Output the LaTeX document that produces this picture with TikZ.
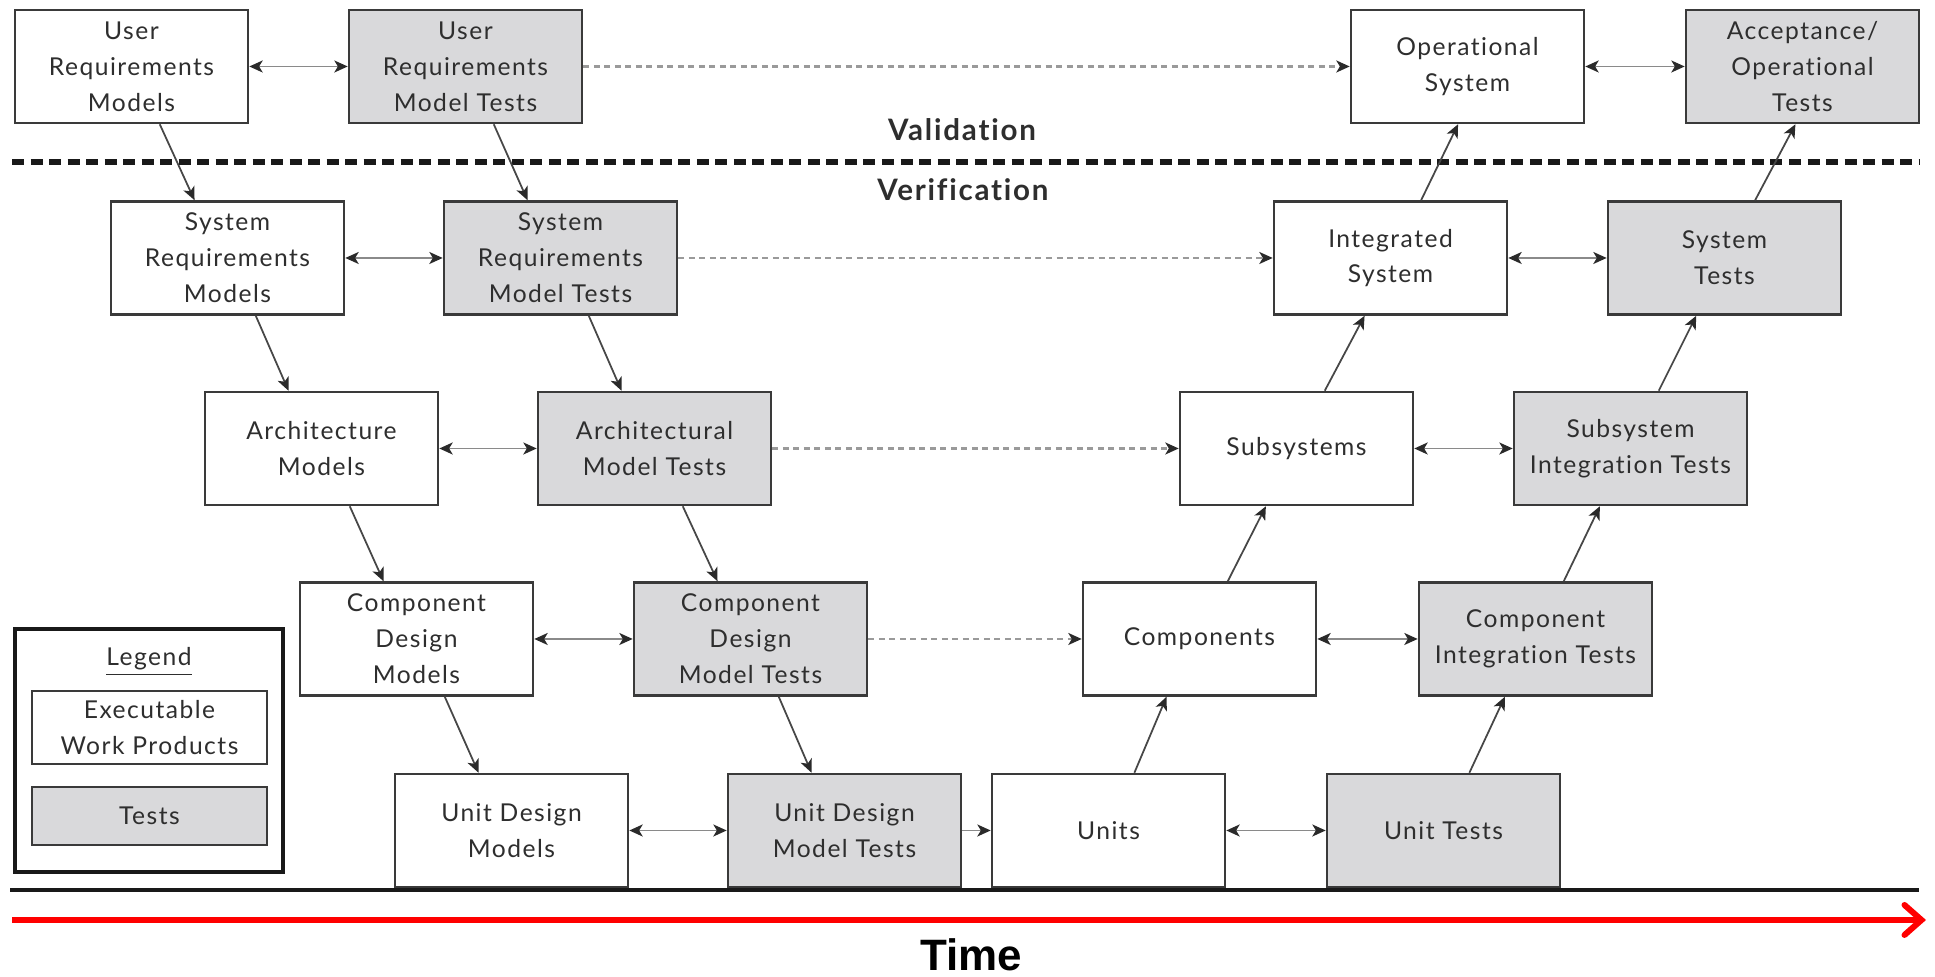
\documentclass[tikz,border=0pt]{standalone}
\usepackage{fontspec}
\usetikzlibrary{arrows.meta,calc}
\newfontfamily\boxfont{Lato}[LetterSpace=6,Ligatures=NoCommon,RawFeature={-liga;-dlig}]
\newfontfamily\timefont{Liberation Sans}
\definecolor{boxline}{HTML}{3A3A3A}
\definecolor{testgray}{HTML}{D9D9DB}
\definecolor{txt}{HTML}{2E2E2E}
\definecolor{linkgray}{HTML}{8A8A8A}
\definecolor{tipcol}{HTML}{2A2A2A}
\definecolor{diag}{HTML}{474747}
\definecolor{dashgray}{HTML}{9A9A9A}
\begin{document}
\begin{tikzpicture}[x=0.01cm,y=-0.01cm,
  >={Stealth[length=3.8pt,width=3.4pt,inset=1pt,color=tipcol]},
  wp/.style={draw=boxline, line width=0.7pt, fill=white, minimum width=2.33cm,
    minimum height=1.13cm, inner sep=0pt, align=center, text=txt,
    font=\boxfont\fontsize{7}{10.2}\selectfont},
  tst/.style={wp, fill=testgray},
  pair/.style={draw=linkgray, line width=0.55pt, <->},
  trace/.style={draw=dashgray, line width=0.6pt, dash pattern=on 0.06cm off 0.045cm, ->},
  flow/.style={draw=diag, line width=0.5pt, ->},
  phase/.style={font=\boxfont\bfseries\fontsize{8.4}{10}\selectfont, text=txt, inner sep=0pt}]
\useasboundingbox (0,0) rectangle (1935,977);

% timeline base and separators
\coordinate (baseL) at (10,890);
\coordinate (baseR) at (1919,890);
\draw[line width=1.4pt, black!90] (baseL) -- (baseR);
\coordinate (sepL) at (12,162);
\coordinate (sepR) at (1919,162);
\draw[line width=1.5pt, black!90, dash pattern=on 0.12cm off 0.065cm] (sepL) -- (sepR);

\node[phase] (valid) at (962,130) {Validation};
\node[phase] (verif) at (963,190) {Verification};

% row 1
\node[wp]  (A1) at (131.5,66.5) {User\\Requirements\\Models};
\node[tst] (B1) at (465.5,66.5) {User\\Requirements\\Model Tests};
\node[wp]  (C1) at (1467.5,66.5) {Operational\\System};
\node[tst] (D1) at (1802.5,66.5) {Acceptance/\\Operational\\Tests};
% row 2
\node[wp]  (A2) at (227.5,258) {System\\Requirements\\Models};
\node[tst] (B2) at (560.5,258) {System\\Requirements\\Model Tests};
\node[wp]  (C2) at (1390.5,258) {Integrated\\System};
\node[tst] (D2) at (1724.5,258) {System\\Tests};
% row 3
\node[wp]  (A3) at (321.5,448.5) {Architecture\\Models};
\node[tst] (B3) at (654.5,448.5) {Architectural\\Model Tests};
\node[wp]  (C3) at (1296.5,448.5) {Subsystems};
\node[tst] (D3) at (1630.5,448.5) {Subsystem\\Integration Tests};
% row 4
\node[wp]  (A4) at (416.5,639) {Component\\Design\\Models};
\node[tst] (B4) at (750.5,639) {Component\\Design\\Model Tests};
\node[wp]  (C4) at (1199.5,639) {Components};
\node[tst] (D4) at (1535.5,639) {Component\\Integration Tests};
% row 5
\node[wp]  (A5) at (511.5,830.5) {Unit Design\\Models};
\node[tst] (B5) at (844.5,830.5) {Unit Design\\Model Tests};
\node[wp]  (C5) at (1108.5,830.5) {Units};
\node[tst] (D5) at (1443.5,830.5) {Unit Tests};

% pairs of work product and its tests
\foreach \r in {1,...,5}{
  \draw[pair] (A\r) -- (B\r);
  \draw[pair] (C\r) -- (D\r);
}
% traces from model tests to the built system
\foreach \r in {1,...,4}{
  \draw[trace] (B\r) -- (C\r);
}
\draw[draw=linkgray, line width=0.55pt, ->] (B5) -- (C5);

% decomposition (left side, going down)
\foreach \s/\t in {1/2,2/3,3/4,4/5}{
  \draw[flow] ($(A\s.south west)!0.62!(A\s.south east)$) -- ($(A\t.north west)!0.36!(A\t.north east)$);
  \draw[flow] ($(B\s.south west)!0.62!(B\s.south east)$) -- ($(B\t.north west)!0.36!(B\t.north east)$);
}
% integration (right side, going up)
\foreach \s/\t/\a/\b in {5/4/0.61/0.36,4/3/0.62/0.37,3/2/0.62/0.39,2/1/0.63/0.46}{
  \draw[flow] ($(C\s.north west)!\a!(C\s.north east)$) -- ($(C\t.south west)!\b!(C\t.south east)$);
}
\foreach \s/\t/\a/\b in {5/4/0.61/0.37,4/3/0.62/0.37,3/2/0.62/0.38,2/1/0.63/0.47}{
  \draw[flow] ($(D\s.north west)!\a!(D\s.north east)$) -- ($(D\t.south west)!\b!(D\t.south east)$);
}

% legend
\node[draw=black!90, line width=1.1pt, minimum width=2.68cm, minimum height=2.43cm, inner sep=0pt] (legend) at (149,750.5) {};
\node[text=txt, font=\boxfont\fontsize{7}{10.2}\selectfont, inner sep=0pt] (legtitle) at (149,662) {\underline{Legend}};
\node[wp, minimum width=2.35cm, minimum height=0.73cm] (legwp) at (149.5,727.5) {Executable\\Work Products};
\node[tst, minimum width=2.35cm, minimum height=0.58cm] (legtst) at (149.5,816) {Tests};

% time axis
\coordinate (timeL) at (12,920);
\coordinate (timeR) at (1926,920);
\draw[red, line width=1.7pt, -{Straight Barb[length=0.17cm,width=0.3cm,line cap=round]}] (timeL) -- (timeR);
\node[font=\timefont\bfseries\fontsize{12.5}{14}\selectfont, inner sep=0pt] (time) at (971,955) {Time};
\end{tikzpicture}
\end{document}
